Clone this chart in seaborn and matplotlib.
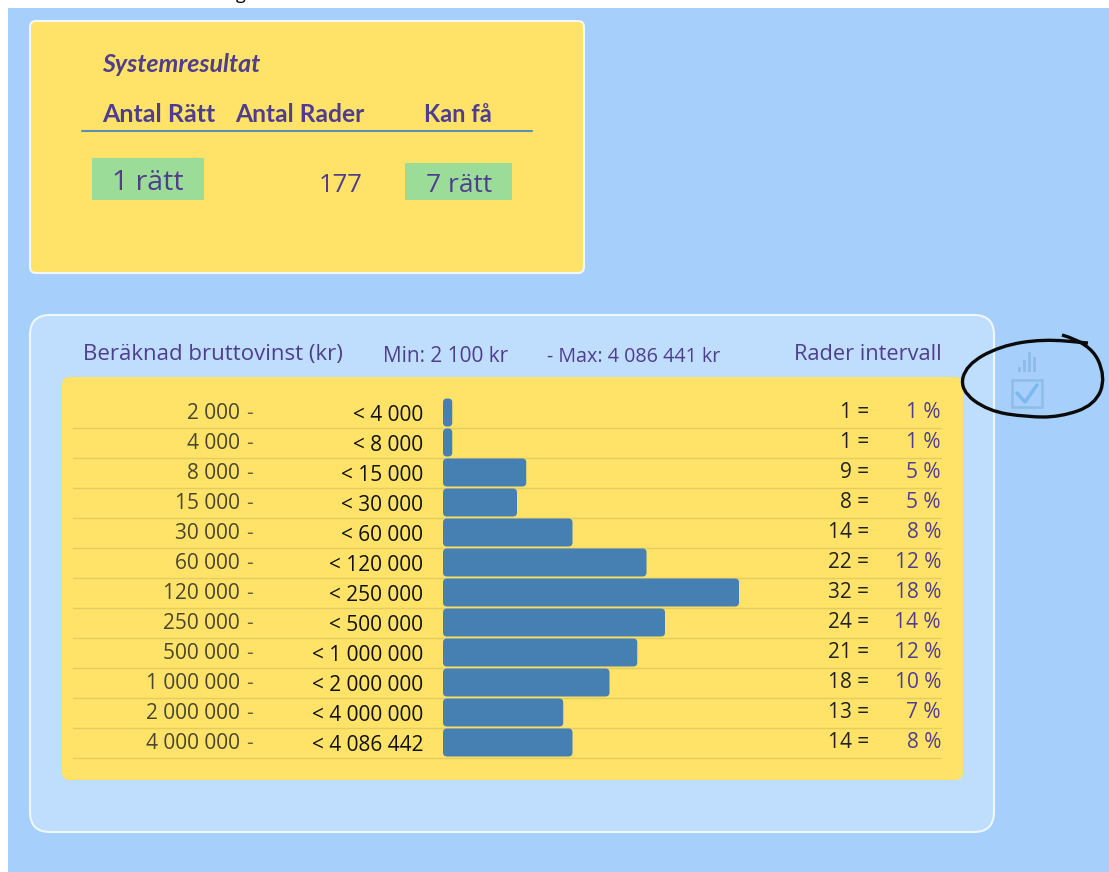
import matplotlib
matplotlib.use("Agg")
import matplotlib.pyplot as plt
from matplotlib.patches import FancyBboxPatch, Rectangle, PathPatch
from matplotlib.path import Path
import numpy as np
import pandas as pd
import seaborn as sns

# values
from_labels = ["2 000", "4 000", "8 000", "15 000", "30 000", "60 000", "120 000",
               "250 000", "500 000", "1 000 000", "2 000 000", "4 000 000"]
to_labels = ["4 000", "8 000", "15 000", "30 000", "60 000", "120 000", "250 000",
             "500 000", "1 000 000", "2 000 000", "4 000 000", "4 086 442"]
rader = [1, 1, 9, 8, 14, 22, 32, 24, 21, 18, 13, 14]
procent = [1, 1, 5, 5, 8, 12, 18, 14, 12, 10, 7, 8]
icon_bars = [3, 7, 12, 9]

bg_col = "#A6D0FB"
panel_col = "#BFDDFC"
yellow = "#FFE368"
bar_col = "#4680B3"
green = "#9BDD98"
purple = "#4F3E8E"
row_line = "#E3CC60"
icon_col = "#8FBCE8"

W, H = 1109, 872
sns.set_theme(style="white")
plt.rcParams["font.family"] = ["Open Sans", "DejaVu Sans"]

fig = plt.figure(figsize=(W / 100, H / 100), dpi=100, facecolor="white")

# whole canvas in pixels, for the panels and the text
bg = fig.add_axes([0, 0, 1, 1], zorder=0)
bg.set_xlim(0, W)
bg.set_ylim(H, 0)
bg.axis("off")

bg.text(241, -1, "g", fontsize=13, color="black", ha="center", va="baseline", zorder=0)
bg.add_patch(Rectangle((8, 8), W - 8, H - 8, fc=bg_col, ec="none", zorder=1))


def panel(x0, y0, x1, y1, fc, ec, r):
    bg.add_patch(FancyBboxPatch((x0 + r, y0 + r), x1 - x0 - 2 * r, y1 - y0 - 2 * r,
                                boxstyle=f"round,pad={r},rounding_size={r}",
                                fc=fc, ec=ec, lw=1.5, zorder=2))


panel(30, 21, 584, 273, yellow, "#F2F7FB", 6)
panel(30, 315, 994, 832, panel_col, "#EEF6FE", 20)
panel(62, 377, 963, 780, yellow, "none", 8)


def txt(x, y, s, size=13, color=purple, ha="left", **kw):
    bg.text(x, y + 1.5, s, fontsize=size, color=color, ha=ha, va="center", zorder=5, **kw)


# top table
txt(102, 63, "Systemresultat", size=18, style="italic", fontweight="bold", family="Lato")
txt(102, 113, "Antal Rätt", size=18, fontweight="bold", family="Lato")
txt(235, 113, "Antal Rader", size=17.7, fontweight="bold", family="Lato")
txt(458, 113, "Kan få", size=17, ha="center", fontweight="bold", family="Lato")
bg.plot([82, 532], [131, 131], color="#5E8FB0", lw=1.5, zorder=3)
bg.add_patch(Rectangle((92, 158), 112, 42, fc=green, ec="none", zorder=3))
bg.add_patch(Rectangle((405, 163), 107, 37, fc=green, ec="none", zorder=3))
txt(148, 182, "1 rätt", size=20.5, ha="center")
txt(363, 184, "177", size=18.5, ha="right")
txt(459, 184, "7 rätt", size=19, ha="center")

# header of the lower panel
txt(83, 353, "Beräknad bruttovinst (kr)", size=16)
txt(383, 355, "Min: 2 100 kr", size=15)
txt(547, 355, "- Max: 4 086 441 kr", size=14.2)
txt(942, 353, "Rader intervall", size=15.7, ha="right")

# rows
for i in range(len(rader)):
    bg.plot([73, 941], [427.5 + 30 * i, 427.5 + 30 * i], color=row_line, lw=1, zorder=3)
    txt(240, 412 + 30 * i, from_labels[i], size=15, color="#4A4630", ha="right")
    txt(253, 412 + 30 * i, "-", size=15, color="#6B6640", ha="right")
    txt(423, 414 + 30 * i, "< " + to_labels[i], size=15, color="#111111", ha="right")
    txt(869, 411 + 30 * i, f"{rader[i]} =", size=15, color="#222222", ha="right")
    txt(941, 411 + 30 * i, f"{procent[i]} %", size=15, ha="right")

# the bars
ax = fig.add_axes([443 / W, 1 - 757.5 / H, 498 / W, 360 / H], zorder=3)
df = pd.DataFrame({"intervall": to_labels, "rader": rader})
sns.barplot(data=df, y="intervall", x="rader", orient="h", color=bar_col,
            width=28 / 30, saturation=1, ax=ax)
ax.set_xlim(0, 498 / 9.25)
ax.patch.set_alpha(0)
ax.axis("off")

# rounded corners on the bars
bar_r_x = 4 / 9.25
bar_r_y = 4 / 30
for b in list(ax.patches):
    x, y, w, h = b.get_x(), b.get_y(), b.get_width(), b.get_height()
    ax.add_patch(FancyBboxPatch((x, y), w, h, mutation_aspect=bar_r_y / bar_r_x,
                                boxstyle=f"round,pad=0,rounding_size={bar_r_x}",
                                fc=bar_col, ec="none", clip_on=False))
    b.set_visible(False)

# little chart icon and tick box
icon = fig.add_axes([1017 / W, 1 - 372 / H, 20 / W, 20 / H], zorder=3)
sns.barplot(x=list(range(len(icon_bars))), y=icon_bars, color=icon_col, saturation=1,
            width=0.6, linewidth=0, ax=icon)
icon.set_ylim(0, 12)
icon.patch.set_alpha(0)
icon.axis("off")

bg.add_patch(Rectangle((1012, 380), 30, 27, fc="none", ec=icon_col, lw=1.8, zorder=3))
bg.plot([1017, 1025, 1037], [393, 402, 385], color="#7DB8EE", lw=2.5, zorder=3)

# hand drawn circle
pts = np.array([(1062, 335), (1090, 343), (1106, 377), (1095, 405), (1060, 417), (1027, 417),
                (988, 411), (960, 390), (966, 365), (1000, 346), (1043, 339), (1088, 343)], float)
verts = [tuple(pts[0])]
codes = [Path.MOVETO]
for a, b in zip(pts[1:-1], pts[2:]):
    verts += [tuple(a), tuple((a + b) / 2)]
    codes += [Path.CURVE3, Path.CURVE3]
verts.append(tuple(pts[-1]))
codes.append(Path.LINETO)
bg.add_patch(PathPatch(Path(verts, codes), fc="none", ec="#0A0A0A", lw=2.4, zorder=6))

fig.savefig("out.png", dpi=100, facecolor=fig.get_facecolor())
